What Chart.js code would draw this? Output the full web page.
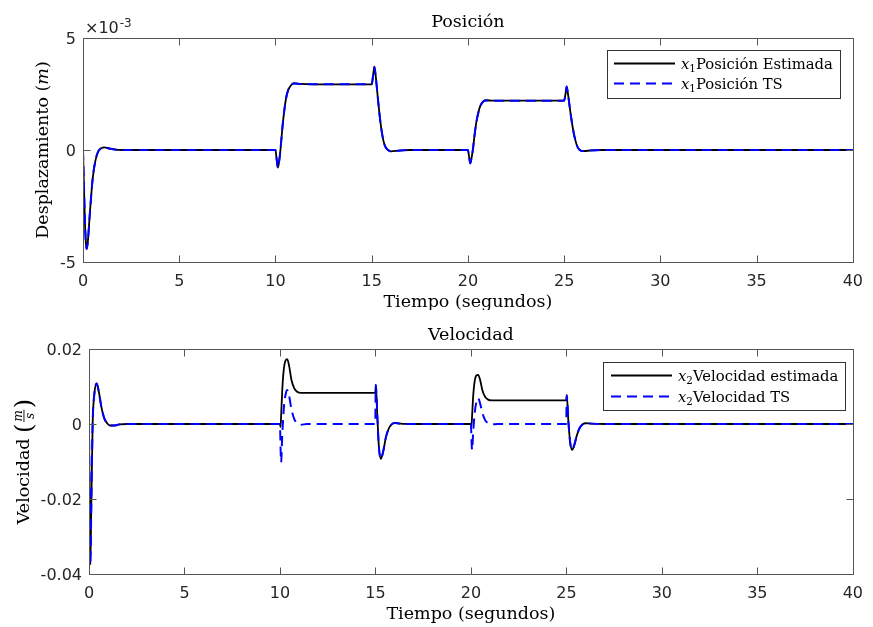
<!DOCTYPE html>
<html>
<head>
<meta charset="utf-8">
<script src="https://cdn.jsdelivr.net/npm/chart.js@4.4.1/dist/chart.umd.min.js"></script>
<style>
  html, body { margin: 0; padding: 0; background: #ffffff; }
  #wrap { position: relative; width: 873px; height: 627px; overflow: hidden; background: #ffffff; }
  canvas { position: absolute; left: 0; }
</style>
</head>
<body>
<div id="wrap">
  <canvas id="cPos" width="873" height="310" style="top:0px"></canvas>
  <canvas id="cVel" width="873" height="317" style="top:310px"></canvas>
</div>
<script>
// ---- data -------------------------------------------------------------
const timeTicks = [0, 5, 10, 15, 20, 25, 30, 35, 40];

// position (m)
const posTime = [0, 0.05, 0.1, 0.15, 0.19, 0.25, 0.35, 0.5, 0.65, 0.8, 0.95, 1.1, 1.4, 1.8, 2.5,
  10.0, 10.06, 10.13, 10.2, 10.27, 10.35, 10.45, 10.55, 10.65, 10.8, 10.95, 11.3, 12.0,
  15.0, 15.07, 15.14, 15.21, 15.3, 15.4, 15.5, 15.6, 15.7, 15.85, 16.0, 16.4, 17.0,
  20.0, 20.06, 20.12, 20.19, 20.27, 20.35, 20.45, 20.55, 20.65, 20.8, 20.95, 21.3,
  25.0, 25.07, 25.13, 25.2, 25.3, 25.4, 25.5, 25.6, 25.7, 25.85, 26.0, 26.4, 27.0, 40.0];
const posEstimada = [0, -1.6e-3, -3.2e-3, -4.15e-3, -4.42e-3, -4.1e-3, -2.9e-3, -1.3e-3, -0.45e-3, -0.05e-3, 0.08e-3, 0.12e-3, 0.06e-3, 0.01e-3, 0,
  0, -0.4e-3, -0.79e-3, -0.45e-3, 0.1e-3, 0.9e-3, 1.7e-3, 2.3e-3, 2.65e-3, 2.88e-3, 2.98e-3, 2.95e-3, 2.93e-3,
  2.93e-3, 3.3e-3, 3.72e-3, 3.3e-3, 2.5e-3, 1.65e-3, 0.95e-3, 0.45e-3, 0.16e-3, 0, -0.06e-3, -0.03e-3, 0,
  0, -0.3e-3, -0.6e-3, -0.35e-3, 0.1e-3, 0.7e-3, 1.3e-3, 1.7e-3, 1.98e-3, 2.17e-3, 2.22e-3, 2.2e-3,
  2.2e-3, 2.5e-3, 2.83e-3, 2.5e-3, 1.85e-3, 1.25e-3, 0.75e-3, 0.38e-3, 0.13e-3, -0.02e-3, -0.05e-3, -0.02e-3, 0, 0];
const posTS = [0, -1.6e-3, -3.2e-3, -4.15e-3, -4.42e-3, -4.1e-3, -2.9e-3, -1.3e-3, -0.45e-3, -0.05e-3, 0.08e-3, 0.12e-3, 0.06e-3, 0.01e-3, 0,
  0, -0.4e-3, -0.79e-3, -0.45e-3, 0.1e-3, 0.9e-3, 1.7e-3, 2.3e-3, 2.65e-3, 2.88e-3, 2.97e-3, 2.95e-3, 2.93e-3,
  2.93e-3, 3.3e-3, 3.72e-3, 3.3e-3, 2.5e-3, 1.65e-3, 0.95e-3, 0.45e-3, 0.16e-3, 0, -0.06e-3, -0.03e-3, 0,
  0, -0.3e-3, -0.6e-3, -0.35e-3, 0.1e-3, 0.7e-3, 1.3e-3, 1.7e-3, 1.98e-3, 2.17e-3, 2.21e-3, 2.2e-3,
  2.2e-3, 2.5e-3, 2.83e-3, 2.5e-3, 1.85e-3, 1.25e-3, 0.75e-3, 0.38e-3, 0.13e-3, -0.02e-3, -0.05e-3, -0.02e-3, 0, 0];
const posTicks = [-0.005, 0, 0.005];

// velocity (m/s)
const velTime = [0, 0.03, 0.07, 0.12, 0.19, 0.28, 0.4, 0.5, 0.65, 0.8, 0.95, 1.1, 1.3, 1.6, 2.0,
  10.0, 10.03, 10.06, 10.12, 10.2, 10.3, 10.38, 10.48, 10.6, 10.75, 10.9, 11.1, 11.4,
  14.99, 15.02, 15.1, 15.18, 15.28, 15.4, 15.55, 15.7, 15.85, 16.0, 16.3, 17.0,
  20.0, 20.03, 20.06, 20.12, 20.2, 20.3, 20.38, 20.48, 20.6, 20.75, 20.9, 21.1, 21.4,
  24.99, 25.02, 25.1, 25.2, 25.3, 25.42, 25.55, 25.7, 25.85, 26.0, 26.3, 27.0, 40.0];
const velEstimada = [0, -0.02, -0.0375, -0.022, 0, 0.008, 0.0108, 0.009, 0.0045, 0.0015, 0.0002, -0.0004, -0.0004, -0.0001, 0,
  0, -0.0008, 0.002, 0.009, 0.0145, 0.017, 0.0173, 0.0155, 0.0118, 0.0095, 0.0086, 0.0083, 0.0083,
  0.0083, 0.0104, 0.002, -0.006, -0.0093, -0.0075, -0.0035, -0.0012, -0.0001, 0.0003, 0.0001, 0,
  0, -0.0005, 0.002, 0.0075, 0.0115, 0.013, 0.0131, 0.0118, 0.009, 0.0072, 0.0065, 0.0063, 0.0063,
  0.0063, 0.0077, 0.001, -0.005, -0.0069, -0.0055, -0.003, -0.001, -0.0001, 0.0002, 0.0001, 0, 0];
const velTS = [0, -0.02, -0.0375, -0.022, 0, 0.008, 0.0108, 0.009, 0.0045, 0.0015, 0.0002, -0.0004, -0.0004, -0.0001, 0,
  0, -0.006, -0.0102, -0.003, 0.004, 0.008, 0.0091, 0.0075, 0.004, 0.0013, 0.0002, -0.0002, 0,
  0, 0.0105, 0.002, -0.006, -0.0093, -0.0075, -0.0035, -0.0012, -0.0001, 0.0003, 0.0001, 0,
  0, -0.004, -0.0069, -0.002, 0.003, 0.0062, 0.0069, 0.0055, 0.003, 0.001, 0.0002, -0.0001, 0,
  0, 0.0077, 0.001, -0.005, -0.0069, -0.0055, -0.003, -0.001, -0.0001, 0.0002, 0.0001, 0, 0];
const velTicks = [-0.04, -0.02, 0, 0.02];

// ---- styling helpers ---------------------------------------------------
const SERIF = '"DejaVu Serif", serif';
const SANS = '"DejaVu Sans", sans-serif';
const INK = '#262626';
const AXIS = '#555555';

function fontOf(p, size) {
  const s = p.sub ? size * 0.7 : size;
  return (p.it ? 'italic ' : '') + s.toFixed(2) + 'px ' + SERIF;
}
function richWidth(ctx, parts, size) {
  let w = 0;
  for (const p of parts) { ctx.font = fontOf(p, size); w += ctx.measureText(p.t).width; }
  return w;
}
function drawRich(ctx, parts, x, y, size, align) {
  const w = richWidth(ctx, parts, size);
  let cx = align === 'center' ? x - w / 2 : x;
  ctx.textAlign = 'left';
  ctx.textBaseline = 'alphabetic';
  for (const p of parts) {
    ctx.font = fontOf(p, size);
    ctx.fillText(p.t, cx, y + (p.sub ? size * 0.22 : 0));
    cx += ctx.measureText(p.t).width;
  }
}
const crisp = v => Math.round(v) + 0.5;

// axes box with inward ticks, titles, legend
const framePlugin = {
  id: 'frame',
  afterDraw(chart, args, o) {
    const { ctx, chartArea: a, scales } = chart;
    const xs = scales.x, ys = scales.y;
    const L = crisp(a.left), R = crisp(a.right), T = crisp(a.top), B = crisp(a.bottom);
    ctx.save();
    ctx.strokeStyle = AXIS;
    ctx.lineWidth = 1;
    ctx.setLineDash([]);
    ctx.beginPath();
    for (const t of xs.ticks) {
      const px = crisp(xs.getPixelForValue(t.value));
      ctx.moveTo(px, B); ctx.lineTo(px, B - 7);
      ctx.moveTo(px, T); ctx.lineTo(px, T + 7);
    }
    for (const t of ys.ticks) {
      const py = crisp(ys.getPixelForValue(t.value));
      ctx.moveTo(L, py); ctx.lineTo(L + 7, py);
      ctx.moveTo(R, py); ctx.lineTo(R - 7, py);
    }
    ctx.rect(L, T, R - L, B - T);
    ctx.stroke();

    ctx.fillStyle = '#000000';
    const cx = (a.left + a.right) / 2;
    const cy = (a.top + a.bottom) / 2;
    drawRich(ctx, o.title, cx, o.titleY, 17.5, 'center');
    drawRich(ctx, o.xlabel, cx, o.xlabelY, 17.5, 'center');

    // rotated y label
    ctx.save();
    ctx.translate(o.ylabelX, cy);
    ctx.rotate(-Math.PI / 2);
    if (o.ylabelFrac) {
      const base = o.ylabel;
      const size = 17.5;
      const wBase = richWidth(ctx, base, size);
      ctx.font = '24px ' + SERIF;
      const wPar = ctx.measureText('(').width;
      ctx.font = 'italic 12px ' + SERIF;
      const wFrac = Math.max(ctx.measureText('m').width, ctx.measureText('s').width) + 2;
      const total = wBase + wPar * 2 + wFrac + 2;
      let x0 = -total / 2;
      drawRich(ctx, base, x0, 0, size, 'left');
      x0 += wBase;
      ctx.font = '24px ' + SERIF; ctx.textAlign = 'left'; ctx.textBaseline = 'alphabetic';
      ctx.fillText('(', x0, 3);
      x0 += wPar + 1;
      const fc = x0 + wFrac / 2;
      ctx.font = 'italic 12px ' + SERIF; ctx.textAlign = 'center';
      ctx.fillText('m', fc, -7.5);
      ctx.fillText('s', fc, 5);
      ctx.fillRect(fc - wFrac / 2 + 0.5, -5.5, wFrac - 1, 0.9);
      x0 += wFrac + 1;
      ctx.font = '24px ' + SERIF; ctx.textAlign = 'left';
      ctx.fillText(')', x0, 3);
    } else {
      drawRich(ctx, o.ylabel, 0, 0, 17.5, 'center');
    }
    ctx.restore();

    // axis exponent
    if (o.exponent) {
      ctx.fillStyle = INK;
      ctx.textAlign = 'left';
      ctx.textBaseline = 'alphabetic';
      ctx.font = '16px ' + SANS;
      ctx.fillText('\u00d710', a.left + 2, a.top - 5);
      const w = ctx.measureText('\u00d710').width;
      ctx.font = '12px ' + SANS;
      ctx.fillText(o.exponent, a.left + 2 + w + 1, a.top - 11);
    }

    // legend
    const lg = o.legend;
    ctx.fillStyle = '#ffffff';
    ctx.fillRect(lg.box[0], lg.box[1], lg.box[2] - lg.box[0], lg.box[3] - lg.box[1]);
    ctx.strokeStyle = '#333333';
    ctx.lineWidth = 1;
    ctx.strokeRect(lg.box[0], lg.box[1], lg.box[2] - lg.box[0], lg.box[3] - lg.box[1]);
    lg.rows.forEach(r => {
      const ds = chart.data.datasets[r.dataset];
      ctx.strokeStyle = ds.borderColor;
      ctx.lineWidth = ds.borderWidth;
      ctx.setLineDash(ds.borderDash || []);
      ctx.beginPath();
      ctx.moveTo(lg.lineX[0], r.y);
      ctx.lineTo(lg.lineX[1], r.y);
      ctx.stroke();
      ctx.setLineDash([]);
      ctx.fillStyle = '#000000';
      drawRich(ctx, r.parts, lg.textX, r.y + 5, 14.8, 'left');
    });
    ctx.restore();
  }
};

function points(xs, ys) { return xs.map((t, i) => ({ x: t, y: ys[i] })); }

function makeChart(id, cfg) {
  return new Chart(document.getElementById(id), {
    type: 'line',
    data: {
      datasets: [
        { label: cfg.labels[0], data: points(cfg.time, cfg.est), borderColor: '#000000', borderWidth: 1.8,
          pointRadius: 0, cubicInterpolationMode: 'monotone', fill: false, order: 2 },
        { label: cfg.labels[1], data: points(cfg.time, cfg.ts), borderColor: '#0000ff', borderWidth: 2,
          borderDash: [10, 6], pointRadius: 0, cubicInterpolationMode: 'monotone', fill: false, order: 1 }
      ]
    },
    options: {
      responsive: false,
      animation: false,
      devicePixelRatio: 1,
      layout: { padding: { left: 0, right: cfg.padRight, top: cfg.padTop, bottom: 0 } },
      plugins: { legend: { display: false }, tooltip: { enabled: false }, frame: cfg.frame },
      scales: {
        x: {
          type: 'linear', min: 0, max: 40,
          afterBuildTicks: s => { s.ticks = timeTicks.map(v => ({ value: v })); },
          afterFit: s => { s.height = cfg.xHeight; },
          grid: { display: false, drawTicks: false }, border: { display: false },
          ticks: { color: INK, font: { family: SANS, size: 16 }, padding: cfg.xPad, maxRotation: 0,
                   callback: v => String(v) }
        },
        y: {
          type: 'linear', min: cfg.yMin, max: cfg.yMax,
          afterBuildTicks: s => { s.ticks = cfg.yTicks.map(v => ({ value: v })); },
          afterFit: s => { s.width = cfg.yWidth; },
          grid: { display: false, drawTicks: false }, border: { display: false },
          ticks: { color: INK, font: { family: SANS, size: 16 }, padding: 7, labelOffset: 2, callback: cfg.yFmt }
        }
      }
    },
    plugins: [framePlugin]
  });
}

makeChart('cPos', {
  time: posTime, est: posEstimada, ts: posTS,
  labels: ['x1 Posición Estimada', 'x1 Posición TS'],
  yMin: -0.005, yMax: 0.005, yTicks: posTicks,
  yFmt: v => String(Math.round(v * 1000)),
  padTop: 38, padRight: 16, xHeight: 48, yWidth: 83, xPad: 10,
  frame: {
    title: [{ t: 'Posición' }], titleY: 27,
    xlabel: [{ t: 'Tiempo (segundos)' }], xlabelY: 307,
    ylabel: [{ t: 'Desplazamiento ' }, { t: '(' }, { t: 'm', it: true }, { t: ')' }], ylabelX: 48,
    exponent: '-3',
    legend: {
      box: [607.5, 50.5, 840.5, 98.5], lineX: [614, 675], textX: 681,
      rows: [
        { dataset: 0, y: 63.5, parts: [{ t: 'x', it: true }, { t: '1', sub: true }, { t: 'Posición Estimada' }] },
        { dataset: 1, y: 83.5, parts: [{ t: 'x', it: true }, { t: '1', sub: true }, { t: 'Posición TS' }] }
      ]
    }
  }
});

makeChart('cVel', {
  time: velTime, est: velEstimada, ts: velTS,
  labels: ['x2 Velocidad estimada', 'x2 Velocidad TS'],
  yMin: -0.04, yMax: 0.02, yTicks: velTicks,
  yFmt: v => String(parseFloat(v.toFixed(4))),
  padTop: 39, padRight: 16, xHeight: 53, yWidth: 89, xPad: 10,
  frame: {
    title: [{ t: 'Velocidad' }], titleY: 30,
    xlabel: [{ t: 'Tiempo (segundos)' }], xlabelY: 309,
    ylabel: [{ t: 'Velocidad ' }], ylabelFrac: true, ylabelX: 29,
    exponent: null,
    legend: {
      box: [603.5, 52.5, 845.5, 100.5], lineX: [611, 672], textX: 678,
      rows: [
        { dataset: 0, y: 65.5, parts: [{ t: 'x', it: true }, { t: '2', sub: true }, { t: 'Velocidad estimada' }] },
        { dataset: 1, y: 86.5, parts: [{ t: 'x', it: true }, { t: '2', sub: true }, { t: 'Velocidad TS' }] }
      ]
    }
  }
});
</script>
</body>
</html>
